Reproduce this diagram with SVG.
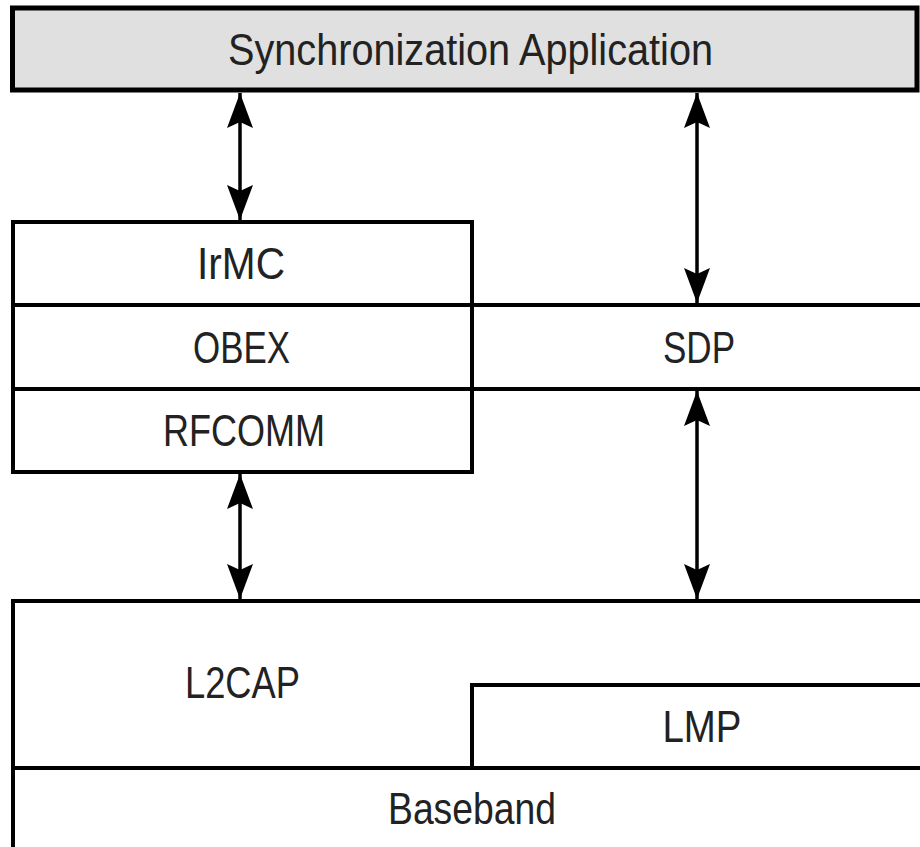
<svg xmlns="http://www.w3.org/2000/svg" width="920" height="847" viewBox="0 0 920 847">
<style>
.ln{stroke:#000;stroke-width:4;fill:none}
.bx{fill:#fff;stroke:#000;stroke-width:4}
.t{font-family:"Liberation Sans",Arial,sans-serif;font-size:44px;fill:#222;text-anchor:middle}
.ar{stroke:#000;stroke-width:3.5;fill:none;marker-start:url(#ah);marker-end:url(#ah)}
</style>
<defs>
<marker id="ah" markerUnits="userSpaceOnUse" viewBox="-36 -14 38 28" refX="0" refY="0" markerWidth="38" markerHeight="28" orient="auto-start-reverse">
<path d="M0,0 L-35,-13 L-29,0 L-35,13 Z" fill="#000"/>
</marker>
</defs>
<rect width="920" height="847" fill="#fff"/>
<g id="sync-app">
<rect x="12.5" y="8" width="904.5" height="82" fill="#e0e0e0" stroke="#000" stroke-width="5"/>
<text class="t" x="470.5" y="65" textLength="485" lengthAdjust="spacingAndGlyphs">Synchronization Application</text>
</g>
<g id="irmc">
<rect class="bx" x="13" y="222" width="459" height="83"/>
<text class="t" x="241" y="279" textLength="88" lengthAdjust="spacingAndGlyphs">IrMC</text>
</g>
<g id="obex">
<rect class="bx" x="13" y="305" width="459" height="84"/>
<text class="t" x="241.5" y="363" textLength="97" lengthAdjust="spacingAndGlyphs">OBEX</text>
</g>
<g id="rfcomm">
<rect class="bx" x="13" y="389" width="459" height="83"/>
<text class="t" x="244" y="446" textLength="162" lengthAdjust="spacingAndGlyphs">RFCOMM</text>
</g>
<g id="sdp">
<path class="ln" d="M472,305 H920 M472,389 H920"/>
<text class="t" x="699" y="363" textLength="72" lengthAdjust="spacingAndGlyphs">SDP</text>
</g>
<g id="l2cap">
<path class="ln" d="M13,847 V601 H920"/>
<text class="t" x="242.5" y="698" textLength="115" lengthAdjust="spacingAndGlyphs">L2CAP</text>
</g>
<g id="lmp">
<path class="ln" d="M472,768 V685 H920"/>
<text class="t" x="702" y="742" textLength="79" lengthAdjust="spacingAndGlyphs">LMP</text>
</g>
<g id="baseband">
<path class="ln" d="M13,768 H920"/>
<text class="t" x="472" y="824" textLength="168" lengthAdjust="spacingAndGlyphs">Baseband</text>
</g>
<g id="connectors">
<path class="ar" d="M240,93 V220"/>
<path class="ar" d="M697,93 V303"/>
<path class="ar" d="M240,474 V599"/>
<path class="ar" d="M697,391 V599"/>
</g>
</svg>
